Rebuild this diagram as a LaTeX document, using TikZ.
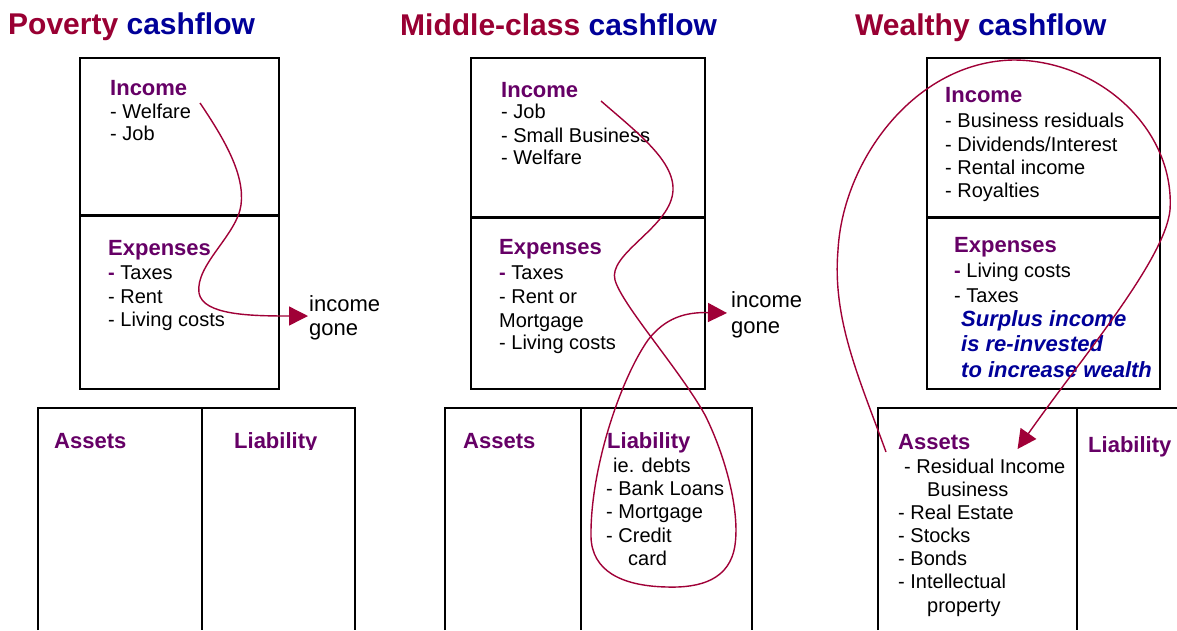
\documentclass[tikz,border=0pt]{standalone}
\usepackage{fontspec}
\setmainfont{Liberation Sans}
\usetikzlibrary{arrows.meta}
\definecolor{titlered}{RGB}{153,0,51}
\definecolor{titleblue}{RGB}{0,0,153}
\definecolor{headpurple}{RGB}{102,0,102}
\definecolor{flowred}{RGB}{160,0,55}
\tikzset{
  title/.style={anchor=base west, inner sep=0pt, font=\fontsize{30}{36}\selectfont\bfseries},
  head/.style={anchor=base west, inner sep=0pt, text=headpurple, font=\fontsize{22}{26}\selectfont\bfseries},
  item/.style={anchor=base west, inner sep=0pt, font=\fontsize{20}{23}\selectfont},
  gone/.style={anchor=base west, inner sep=0pt, font=\fontsize{22}{24}\selectfont},
  note/.style={anchor=base west, inner sep=0pt, text=titleblue, font=\fontsize{22}{25}\selectfont\bfseries\itshape},
  frame/.style={draw=black, line width=1.5pt},
  divider/.style={draw=black, line width=3pt},
  flow/.style={draw=flowred, line width=1.4pt, -{Triangle[length=19pt,width=19pt]}},
}
\newcommand{\pdash}{{\color{headpurple}\bfseries -}}
\begin{document}
\begin{tikzpicture}[x=1pt,y=-1pt]
\useasboundingbox (0,0) rectangle (1177,630);
\fill[white] (0,0) rectangle (1177,630);

% ---------------- Poverty ----------------
\node[title] (ptitle) at (8,34) {\textcolor{titlered}{Poverty} \textcolor{titleblue}{cashflow}};
\draw[frame] (80,58) rectangle (279,389);
\draw[divider] (80,215) -- (279,215);
\draw[frame] (38,630) |- (355,408) -- (355,630);
\draw[frame] (202,408) -- (202,630);

\node[head] (pinchead) at (110,95) {Income};
\node[item] (pwelf) at (110,118) {- Welfare};
\node[item] (pjob) at (110,140) {- Job};
\node[head] (pexphead) at (108,255) {Expenses};
\node[item] (ptax) at (108,279) {\pdash{} Taxes};
\node[item] (prent) at (108,303) {- Rent};
\node[item] (pliv) at (108,326) {- Living costs};
\node[gone] (pinc) at (309,311) {income};
\node[gone] (pgone) at (309,335) {gone};
\begin{scope}
  \clip (40,400) rectangle (353,449.5);
  \node[head] (passets) at (54,448) {Assets};
  \node[head] (pliab) at (234,448) {Liability};
\end{scope}

\coordinate (ps) at (200,103);
\draw[flow] (ps) .. controls (225,140) and (245,175) .. (241,205)
  .. controls (237,235) and (195,265) .. (199,293)
  .. controls (203,315) and (250,316) .. ([xshift=-1pt,yshift=-5pt]pinc.base west);

% ---------------- Middle class ----------------
\node[title] (mtitle) at (400,35) {\textcolor{titlered}{Middle-class} \textcolor{titleblue}{cashflow}};
\draw[frame] (471,58) rectangle (705,389);
\draw[divider] (471,217) -- (705,217);
\draw[frame] (445,630) |- (752,408) -- (752,630);
\draw[frame] (581,408) -- (581,630);

\node[head] (minchead) at (501,97) {Income};
\node[item] (mjob) at (501,118) {- Job};
\node[item] (msmall) at (501,142) {- Small Business};
\node[item] (mwelf) at (501,164) {- Welfare};
\node[head] (mexphead) at (499,254) {Expenses};
\node[item] (mtax) at (499,279) {\pdash{} Taxes};
\node[item] (mrent) at (499,303) {- Rent or};
\node[item] (mmort) at (499,327) {Mortgage};
\node[item] (mliv) at (499,349) {- Living costs};
\node[gone] (minc) at (731,307) {income};
\node[gone] (mgone) at (731,333) {gone};
\node[head] (massets) at (463,448) {Assets};
\node[head] (mliab) at (607,448) {Liability};
\node[item] (mdebts) at (613,472) {ie. debts};
\node[item] (mbank) at (606,495) {- Bank Loans};
\node[item] (mmortg) at (606,518) {- Mortgage};
\node[item] (mcred) at (606,542) {- Credit};
\node[item] (mcard) at (628,565) {card};

\coordinate (ms) at (601,101);
\draw[flow] (ms) .. controls (640,135) and (680,165) .. (672,197)
  .. controls (664,230) and (608,255) .. (615,280)
  .. controls (622,305) and (680,370) .. (705,415)
  .. controls (725,455) and (740,510) .. (735,545)
  .. controls (730,580) and (700,588) .. (667,587)
  .. controls (620,586) and (592,570) .. (591,537)
  .. controls (590,470) and (620,380) .. (648,340)
  .. controls (665,318) and (685,312) .. ([xshift=-4pt,yshift=-6pt]minc.base west);

% ---------------- Wealthy ----------------
\node[title] (wtitle) at (855,35) {\textcolor{titlered}{Wealthy} \textcolor{titleblue}{cashflow}};
\draw[frame] (927,58) rectangle (1160,389);
\draw[divider] (927,217) -- (1160,217);
\draw[frame] (878,630) |- (1180,408);
\draw[frame] (1077,408) -- (1077,630);

\node[head] (winchead) at (945,102) {Income};
\node[item] (wbus) at (945,127) {- Business residuals};
\node[item] (wdiv) at (945,151) {- Dividends/Interest};
\node[item] (wrent) at (945,174) {- Rental income};
\node[item] (wroy) at (945,197) {- Royalties};
\node[head] (wexphead) at (954,252) {Expenses};
\node[item] (wliv) at (954,277) {\pdash{} Living costs};
\node[item] (wtax) at (954,302) {- Taxes};
\node[note] (wsur1) at (961,326) {Surplus income};
\node[note] (wsur2) at (961,351) {is re-invested};
\node[note] (wsur3) at (961,377) {to increase wealth};
\node[head] (wassets) at (898,449) {Assets};
\node[head] (wliab) at (1088,452) {Liability};
\node[item] (wres) at (904,473) {- Residual Income};
\node[item] (wresb) at (927,496) {Business};
\node[item] (wreal) at (898,519) {- Real Estate};
\node[item] (wstock) at (898,542) {- Stocks};
\node[item] (wbond) at (898,565) {- Bonds};
\node[item] (wint) at (898,588) {- Intellectual};
\node[item] (wprop) at (927,612) {property};

\draw[flow] ([xshift=-12pt,yshift=-3pt]wassets.base west)
  .. controls (860,380) and (832,320) .. (838,250)
  .. controls (843,160) and (915,62) .. (1013,60)
  .. controls (1100,60) and (1175,130) .. (1170,210)
  .. controls (1165,260) and (1080,360) .. ([xshift=47pt]wassets.base east);
\end{tikzpicture}
\end{document}
